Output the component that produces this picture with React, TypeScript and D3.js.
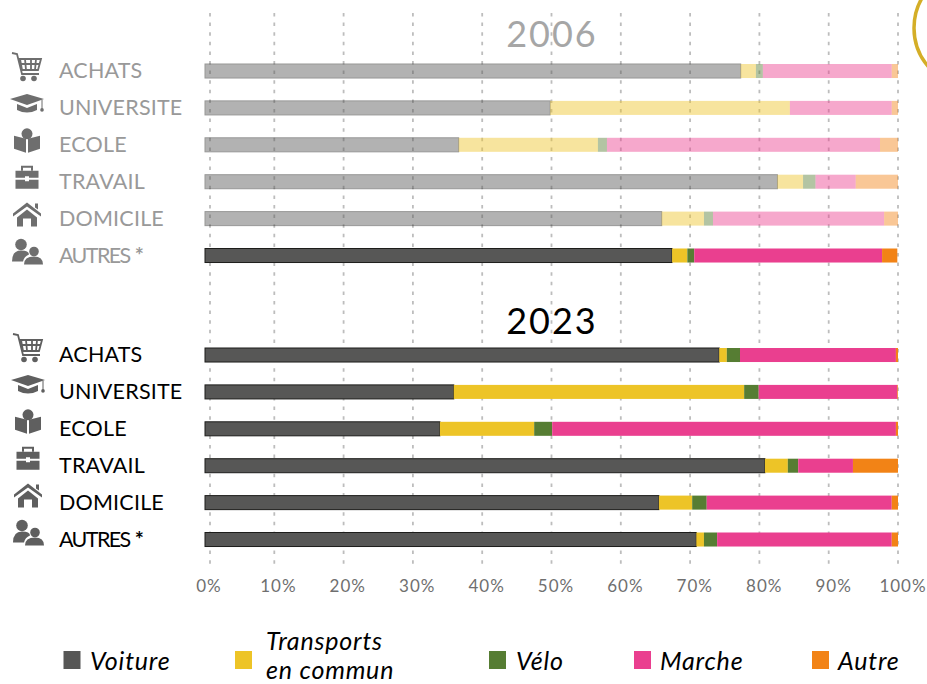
import React, {useRef, useEffect} from 'react';
import * as d3 from 'd3';

const WIDTH = 927;
const HEIGHT = 684;
const FONT = 'Lato, sans-serif';

const modes = ['Voiture', 'Transports en commun', 'Vélo', 'Marche', 'Autre'];
const modeColors = ['#575756', '#edc427', '#567d33', '#ea3f8f', '#f28316'];
const motifs = ['ACHATS', 'UNIVERSITE', 'ECOLE', 'TRAVAIL', 'DOMICILE', 'AUTRES *'];
const iconNames = ['cart', 'cap', 'book', 'case', 'house', 'people'];
const ticks = [0, 10, 20, 30, 40, 50, 60, 70, 80, 90, 100];

// shares in %
const voiture2006 = [77.3, 49.8, 36.6, 82.6, 65.9, 67.4];
const transports2006 = [2.2, 34.6, 20.1, 3.7, 6.1, 2.2];
const velo2006 = [1.0, 0, 1.3, 1.8, 1.3, 1.0];
const marche2006 = [18.6, 14.7, 39.4, 5.8, 24.7, 27.1];
const autre2006 = [0.9, 0.9, 2.6, 6.1, 2.0, 2.2];

const voiture2023 = [74.2, 35.9, 33.9, 80.8, 65.5, 70.9];
const transports2023 = [1.1, 41.9, 13.6, 3.3, 4.8, 1.1];
const velo2023 = [1.9, 2.1, 2.6, 1.5, 2.1, 1.9];
const marche2023 = [22.5, 20.0, 49.6, 7.9, 26.7, 25.2];
const autre2023 = [0.3, 0.1, 0.3, 6.5, 0.9, 0.9];

const rows = (cols: number[][]) =>
    motifs.map((motif, i) => {
        const row: any = {motif};
        modes.forEach((m, j) => { row[m] = cols[j][i]; });
        return row;
    });

const data2006 = rows([voiture2006, transports2006, velo2006, marche2006, autre2006]);
const data2023 = rows([voiture2023, transports2023, velo2023, marche2023, autre2023]);

// pictograms, each drawn around its own centre
const drawIcon = (g: any, name: string) => {
    const fill = '#5f5f5f';
    const p = (d: string) => g.append('path').attr('d', d).attr('fill', fill);
    if (name === 'cart') {
        g.append('path')
            .attr('d', 'M-15,-14 L-10,-13 L-5,7 L12,7 M-7,-8 L14,-8 L11,3 L-5,3 Z M-2,-8 L-1,3 M4,-8 L4,3 M9,-8 L8,3 M-6,-3 L13,-3')
            .attr('fill', 'none').attr('stroke', fill).attr('stroke-width', 1.8);
        g.append('circle').attr('cx', -4).attr('cy', 11.5).attr('r', 2.8).attr('fill', fill);
        g.append('circle').attr('cx', 7).attr('cy', 11.5).attr('r', 2.8).attr('fill', fill);
    } else if (name === 'cap') {
        p('M-17,-5 L0,-10 L17,-5 L0,1 Z');
        p('M-10,0 L0,4 L10,0 L10,6 Q0,11 -10,6 Z');
        g.append('path').attr('d', 'M15,-4 L15,5').attr('stroke', fill).attr('stroke-width', 1);
        g.append('circle').attr('cx', 15).attr('cy', 6).attr('r', 1.8).attr('fill', fill);
    } else if (name === 'book') {
        g.append('circle').attr('cx', 0).attr('cy', -7).attr('r', 5.5).attr('fill', fill);
        p('M-1,-2 L-1,12 L-13,8 L-13,-5 Z');
        p('M1,-2 L1,12 L13,8 L13,-5 Z');
    } else if (name === 'case') {
        g.append('path').attr('d', 'M-5,-7 L-5,-11 L5,-11 L5,-7')
            .attr('fill', 'none').attr('stroke', fill).attr('stroke-width', 2);
        p('M-11.5,-7 L11.5,-7 L11.5,0 L2,0 L2,-1.5 L-2,-1.5 L-2,0 L-11.5,0 Z');
        p('M-11.5,2 L-2,2 L-2,3.5 L2,3.5 L2,2 L11.5,2 L11.5,11 L-11.5,11 Z');
    } else if (name === 'house') {
        p('M-14,-1 L0,-12 L14,-1 L14,2 L0,-8 L-14,2 Z');
        p('M8,-11 L11,-11 L11,-5 L8,-7 Z');
        p('M-10,3 L0,-5 L10,3 L10,12 L4,12 L4,4 L-4,4 L-4,12 L-10,12 Z');
    } else {
        g.append('circle').attr('cx', -6).attr('cy', -7).attr('r', 5.8).attr('fill', fill);
        p('M-15,10 Q-15,-1 -6,-1 Q2,-1 2,3 Q-3,5 -4,10 Z');
        g.append('circle').attr('cx', 7).attr('cy', 0).attr('r', 4.8).attr('fill', fill);
        p('M-3,13 Q-3,5 7,5 Q16,5 16,13 Z');
    }
};

const MobilityChart = () => {
    const svgRef = useRef(null);

    useEffect(() => {
        const svg = d3.select(svgRef.current);
        svg.selectAll('*').remove();

        // Scales
        const xScale = d3.scaleLinear().domain([0, 100]).range([205, 898]);
        const labelScale = d3.scaleLinear().domain([0, 100]).range([209, 903]);
        const blockHeight = 36.9 * 5.38;
        const y2006 = d3.scaleBand().domain(motifs).range([64, 64 + blockHeight]).paddingInner(0.62).paddingOuter(0);
        const y2023 = d3.scaleBand().domain(motifs).range([348, 348 + blockHeight]).paddingInner(0.62).paddingOuter(0);
        const stack = d3.stack().keys(modes);

        // Gridlines
        svg.append('g').selectAll('line').data(ticks).join('line')
            .attr('x1', d => d === 0 ? xScale(d) + 5 : xScale(d))
            .attr('x2', d => d === 0 ? xScale(d) + 5 : xScale(d))
            .attr('y1', 13)
            .attr('y2', 564)
            .attr('stroke', '#bdbdbd')
            .attr('stroke-width', 1.8)
            .attr('stroke-dasharray', '3.5,6.1');

        // Tick labels
        svg.append('g').selectAll('text').data(ticks).join('text')
            .attr('x', d => labelScale(d))
            .attr('y', 592)
            .attr('text-anchor', 'middle')
            .attr('font-family', FONT)
            .attr('font-size', 17)
            .attr('letter-spacing', 1)
            .attr('fill', '#6f6f6f')
            .text(d => `${d}%`);

        // One block of stacked bars
        const drawBlock = (rowsData: any[], yScale: any, labelColor: string, faded: boolean, iconDy: number, iconDx: number) => {
            const block = svg.append('g');
            stack(rowsData).forEach((serie: any, j: number) => {
                block.append('g').selectAll('rect').data(serie).join('rect')
                    .attr('x', (d: any) => xScale(d[0]))
                    .attr('y', (d: any) => yScale(d.data.motif))
                    .attr('width', (d: any) => xScale(d[1]) - xScale(d[0]))
                    .attr('height', yScale.bandwidth())
                    .attr('fill', modeColors[j])
                    .attr('stroke', j === 0 ? '#1d1d1b' : 'none')
                    .attr('stroke-width', 1)
                    // AUTRES * keeps its full colour in the 2006 block
                    .attr('opacity', (d: any) => faded && d.data.motif !== 'AUTRES *' ? 0.45 : 1);
            });

            const labels = block.append('g').selectAll('text').data(motifs).join('text')
                .attr('x', 59)
                .attr('y', d => yScale(d) + 14)
                .attr('font-family', FONT)
                .attr('font-size', 21.5)
                .attr('letter-spacing', d => d === 'AUTRES *' ? -1.6 : 0.2)
                .attr('fill', labelColor);

            labels.append('tspan').text(d => d.replace(' *', ''));
            labels.filter(d => d.endsWith('*')).append('tspan')
                .attr('dx', 5)
                .attr('font-weight', 700)
                .text('*');

            motifs.forEach((m, i) => {
                const icon = block.append('g')
                    .attr('transform', `translate(${27 + iconDx}, ${yScale(m) + 3 + iconDy})`)
                    .attr('opacity', faded ? 0.9 : 1);
                drawIcon(icon, iconNames[i]);
            });
        };

        drawBlock(data2006, y2006, '#999999', true, 0, 0);
        drawBlock(data2023, y2023, '#000000', false, -3, 1);

        // Titles
        svg.append('text').attr('x', 552).attr('y', 47).attr('text-anchor', 'middle')
            .attr('font-family', FONT).attr('font-size', 36).attr('letter-spacing', 2).attr('fill', '#a6a6a6').text('2006');
        svg.append('text').attr('x', 552).attr('y', 334).attr('text-anchor', 'middle')
            .attr('font-family', FONT).attr('font-size', 36).attr('letter-spacing', 2).attr('fill', '#000000').text('2023');

        // Ring cut by the right edge
        svg.append('circle').attr('cx', 973).attr('cy', 28).attr('r', 59)
            .attr('fill', 'none').attr('stroke', '#d4ae27').attr('stroke-width', 3.5);

        // Legend
        const legendX = d3.scaleOrdinal<string, number>().domain(modes).range([63.5, 235, 489, 634, 812]);
        const legend = svg.append('g');
        legend.selectAll('rect').data(modes).join('rect')
            .attr('x', d => legendX(d))
            .attr('y', 651)
            .attr('width', 17)
            .attr('height', 18)
            .attr('fill', (d, i) => modeColors[i]);

        const legendLabels = [
            {lines: ['Voiture'], tx: 90, ty: 670},
            {lines: ['Transports', 'en commun'], tx: 266, ty: 650},
            {lines: ['Vélo'], tx: 516, ty: 670},
            {lines: ['Marche'], tx: 660, ty: 670},
            {lines: ['Autre'], tx: 838, ty: 670},
        ];
        legendLabels.forEach(l => {
            l.lines.forEach((line, k) => {
                legend.append('text')
                    .attr('x', l.tx)
                    .attr('y', l.ty + k * 29)
                    .attr('font-family', FONT)
                    .attr('font-style', 'italic')
                    .attr('font-size', 25)
                    .attr('letter-spacing', 0.8)
                    .attr('fill', '#000000')
                    .text(line);
            });
        });
    }, []);

    return <svg ref={svgRef} width={WIDTH} height={HEIGHT} style={{position: 'absolute', left: 0, top: 0}}/>;
};

export default function App() {
    return <MobilityChart/>;
}
